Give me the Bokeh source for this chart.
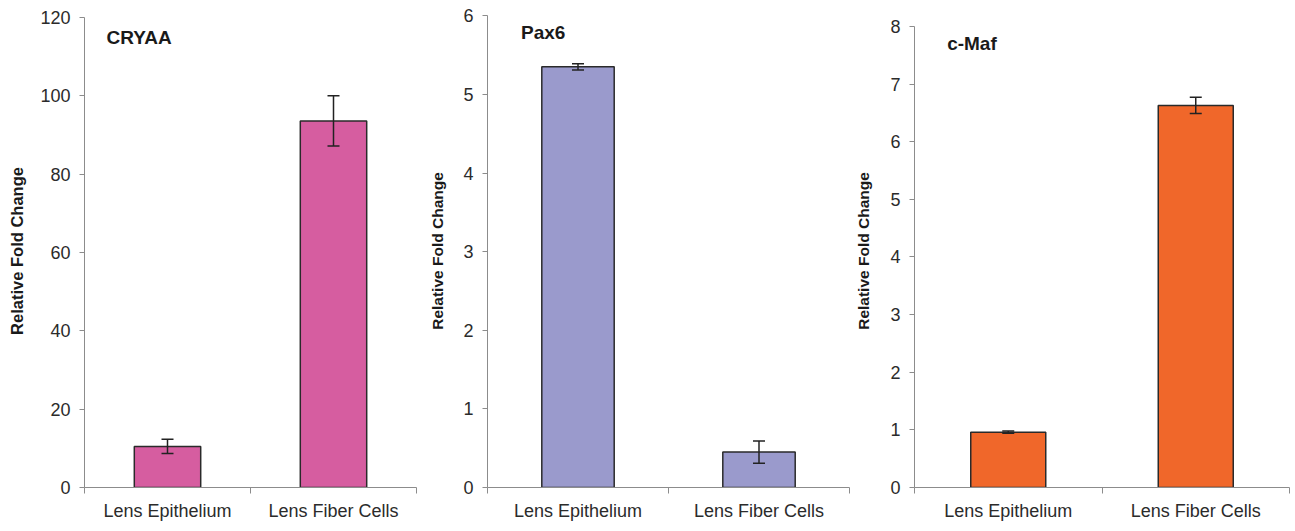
from bokeh.plotting import figure
from bokeh.layouts import row
from bokeh.models import ColumnDataSource, FixedTicker, Whisker, TeeHead, Label, Range1d
from bokeh.embed import file_html
from bokeh.resources import INLINE
import numpy as np

categories = ["Lens Epithelium", "Lens Fiber Cells"]

cryaa_values = [10.5, 93.6]
cryaa_errors = [1.8, 6.4]

pax6_values = [5.35, 0.45]
pax6_errors = [0.04, 0.14]

cmaf_values = [0.96, 6.63]
cmaf_errors = [0.02, 0.14]

FONT = "Liberation Sans"
AXIS_GRAY = "#8c8c8c"
TEXT = "#2b2b2b"
H = 531
TOP = 14
BOTTOM = 44


def panel(title, values, errors, color, ymax, ystep, yview, width,
          border_left, border_right, title_pos, ylabel_size, ylabel_standoff):
    x = np.arange(len(categories)) + 0.5
    v = np.array(values)
    e = np.array(errors)
    src = ColumnDataSource(dict(x=x, top=v, upper=v + e, lower=v - e))

    p = figure(width=width, height=H, output_backend="svg",
               toolbar_location=None, x_range=Range1d(0, len(categories)),
               y_range=Range1d(0, yview),
               min_border_left=border_left, min_border_top=TOP,
               min_border_right=border_right, min_border_bottom=BOTTOM)
    p.outline_line_color = None
    p.grid.visible = False
    p.background_fill_color = "white"

    p.vbar(x="x", top="top", width=0.4, source=src, fill_color=color,
           line_color="#2a2a2a", line_width=1.5)

    w = Whisker(base="x", upper="upper", lower="lower", source=src,
                line_color="#222222", line_width=1.5, level="overlay",
                upper_head=TeeHead(size=12, line_color="#222222", line_width=1.5),
                lower_head=TeeHead(size=12, line_color="#222222", line_width=1.5))
    p.add_layout(w)

    # x axis
    xa = p.xaxis[0]
    xa.ticker = FixedTicker(ticks=list(x), minor_ticks=list(range(len(categories) + 1)))
    xa.major_label_overrides = {float(xx): c for xx, c in zip(x, categories)}
    xa.major_tick_out = 0
    xa.major_tick_in = 0
    xa.minor_tick_out = 6
    xa.minor_tick_in = 0
    xa.minor_tick_line_color = AXIS_GRAY
    xa.axis_line_color = AXIS_GRAY
    xa.major_label_text_font = FONT
    xa.major_label_text_font_size = "18px"
    xa.major_label_text_color = TEXT
    xa.major_label_standoff = 7

    # y axis
    ya = p.yaxis[0]
    ya.ticker = FixedTicker(ticks=list(np.arange(0, ymax + ystep / 2, ystep)))
    ya.bounds = (0, ymax)
    ya.major_tick_out = 5
    ya.major_tick_in = 0
    ya.minor_tick_out = 0
    ya.minor_tick_in = 0
    ya.axis_line_color = AXIS_GRAY
    ya.major_tick_line_color = AXIS_GRAY
    ya.major_label_text_font = FONT
    ya.major_label_text_font_size = "18px"
    ya.major_label_text_color = TEXT
    ya.major_label_standoff = 9
    ya.axis_label = "Relative Fold Change"
    ya.axis_label_text_font = FONT
    ya.axis_label_text_font_style = "bold"
    ya.axis_label_text_font_size = ylabel_size
    ya.axis_label_text_color = "#1a1a1a"
    ya.axis_label_standoff = ylabel_standoff

    lbl = Label(x=title_pos[0], y=title_pos[1], text=title, text_font=FONT,
                text_font_style="bold", text_font_size="19px",
                text_color="#1a1a1a", text_baseline="middle", text_align="left")
    p.add_layout(lbl)
    return p


p1 = panel("CRYAA", cryaa_values, cryaa_errors, "#D65DA0", 120, 20, 120.77,
           420, 84, 4, (0.1325, 114.9), "16.5px", 11)
p2 = panel("Pax6", pax6_values, pax6_errors, "#9A9ACC", 6, 1, 6.016,
           430, 67, 1, (0.185, 5.79), "15.5px", 14)
p3 = panel("c-Maf", cmaf_values, cmaf_errors, "#F0672A", 8, 1, 8.208,
           445, 64, 6, (0.174, 7.70), "15.5px", 15)

layout = row(p1, p2, p3, spacing=0)
open("out.html", "w").write(file_html(layout, INLINE))
